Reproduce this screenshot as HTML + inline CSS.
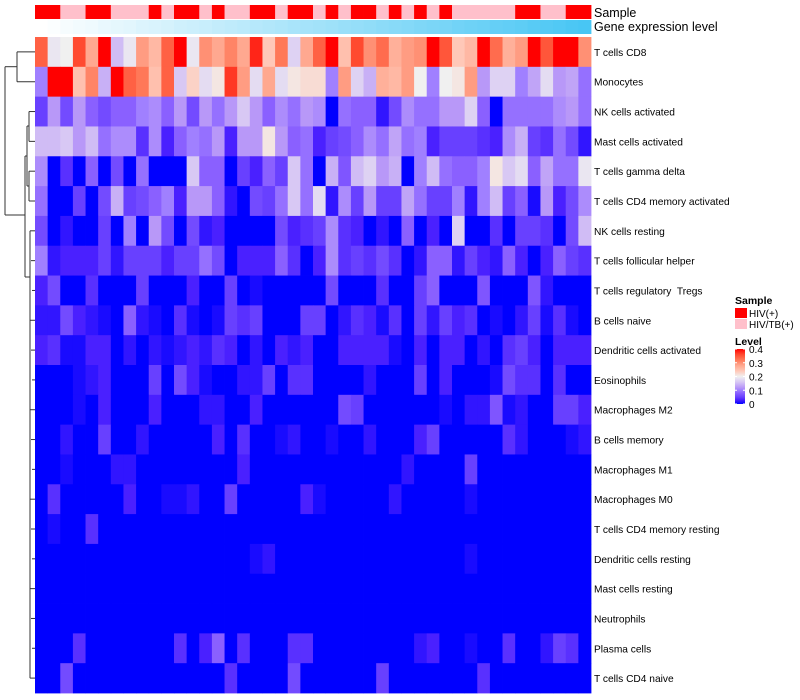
<!DOCTYPE html>
<html><head><meta charset="utf-8"><style>
body{margin:0;background:#fff;}
svg{display:block;font-family:"Liberation Sans",sans-serif;}
text{white-space:pre;}
</style></head><body>
<svg id="chart" width="800" height="700"></svg>
<script>
const cellTypes=["T cells CD8","Monocytes","NK cells activated","Mast cells activated","T cells gamma delta","T cells CD4 memory activated","NK cells resting","T cells follicular helper","T cells regulatory  Tregs","B cells naive","Dendritic cells activated","Eosinophils","Macrophages M2","B cells memory","Macrophages M1","Macrophages M0","T cells CD4 memory resting","Dendritic cells resting","Mast cells resting","Neutrophils","Plasma cells","T cells CD4 naive"];
const sampleGroups="RRPPRRPPPRPRRPRPPRRPRRPRPRRPRPRPRPPPPPRRPPRR".split("");
const geneExpr=[0,2,5,7,9,12,14,16,19,21,23,26,28,30,33,35,37,40,42,44,47,49,51,53,56,58,60,63,65,67,70,72,74,77,79,81,84,86,88,91,93,95,98,100];
// values in percent (0..40 => 0..0.4)
const levels=[
[34,19,20,36,28,40,15,19,29,26,34,40,19,30,28,31,28,38,24,32,17,28,34,40,25,36,30,33,27,29,30,40,35,24,26,40,33,27,29,40,35,40,40,30],
[10,40,40,25,31,14,40,34,32,25,34,16,23,18,21,37,29,18,28,18,21,22,22,10,29,17,14,27,26,29,20,10,20,21,29,12,17,17,10,13,18,12,13,9],
[5,12,6,12,8,6,8,8,10,11,8,12,6,12,9,12,16,12,8,11,9,12,11,0,9,8,8,2,6,11,9,9,12,12,17,8,0,9,9,9,9,11,12,9],
[15,15,16,12,15,9,11,11,4,11,3,8,10,9,12,3,12,12,21,12,8,9,3,5,6,8,11,9,13,9,10,3,5,5,5,4,3,11,14,5,4,9,6,2],
[11,0,4,0,8,0,6,0,9,0,0,0,16,8,8,0,5,3,8,5,16,9,0,14,7,15,17,12,14,0,10,15,9,8,8,10,21,16,18,8,13,9,9,19],
[9,0,0,5,0,6,14,5,6,8,10,3,12,12,8,2,0,6,5,9,16,9,18,2,11,5,12,5,5,13,9,5,5,10,2,10,15,5,8,1,12,3,6,11],
[6,0,2,0,0,5,0,10,0,12,6,0,6,2,3,0,0,0,0,6,3,4,5,11,4,3,0,2,0,8,0,3,0,17,0,0,4,0,5,5,4,0,6,15],
[10,2,3,3,3,5,2,5,5,5,3,5,5,9,6,0,3,3,3,8,4,0,3,11,4,5,4,6,4,0,2,8,8,2,5,3,2,8,3,0,3,8,5,4],
[3,6,0,0,4,0,0,0,5,0,0,0,3,0,0,5,0,1,0,0,0,0,0,6,0,0,0,4,0,0,5,8,0,0,0,7,0,0,0,7,2,0,0,0],
[2,2,6,3,2,1,0,8,2,1,0,4,1,0,1,5,4,5,0,0,0,5,5,0,2,4,3,1,4,0,5,2,5,3,4,0,1,0,2,5,1,4,1,0],
[3,4,1,1,3,3,0,2,0,2,1,2,3,2,4,3,0,2,0,3,2,3,0,0,3,3,3,3,1,0,3,0,3,3,0,2,0,4,5,3,0,3,3,3],
[0,0,0,1,2,3,0,0,0,5,0,6,3,1,0,0,2,2,5,0,4,4,0,0,0,0,2,0,0,0,5,0,3,0,0,0,1,6,4,4,0,4,0,0],
[0,0,0,1,0,3,0,0,0,3,0,0,0,2,2,0,0,3,0,0,0,0,0,0,6,5,0,0,0,0,0,0,1,0,2,2,7,1,2,0,0,5,5,3],
[0,0,2,0,0,5,0,0,2,0,0,0,0,0,3,0,4,0,0,1,2,0,0,1,0,0,2,0,0,0,3,5,0,0,0,0,0,4,2,0,0,0,1,2],
[0,0,1,0,0,0,2,2,0,0,0,0,0,0,0,0,3,0,0,0,0,0,0,0,0,0,0,0,0,2,0,0,0,0,5,0,0,0,0,0,0,0,0,0],
[0,4,0,0,0,0,0,3,0,0,1,1,2,0,0,5,0,0,0,0,0,3,1,0,0,0,0,0,2,0,0,0,0,0,1,0,0,0,0,0,0,0,0,0],
[0,1,0,0,4,0,0,0,0,0,0,0,0,0,0,0,0,0,0,0,0,0,0,0,0,0,0,0,0,0,0,0,0,0,0,0,0,0,0,0,0,0,0,0],
[0,0,0,0,0,0,0,0,0,0,0,0,0,0,0,0,0,1,2,0,0,0,0,0,0,0,0,0,0,0,0,0,0,0,1,0,0,0,0,0,0,0,0,0],
[0,0,0,0,0,0,0,0,0,0,0,0,0,0,0,0,0,0,0,0,0,0,0,0,0,0,0,0,0,0,0,0,0,0,0,0,0,0,0,0,0,0,0,0],
[0,0,0,0,0,0,0,0,0,0,0,0,0,0,0,0,0,0,0,0,0,0,0,0,0,0,0,0,0,0,0,0,0,0,0,0,0,0,0,0,0,0,0,0],
[0,0,0,4,0,0,0,0,0,0,0,4,0,3,8,0,4,0,0,0,4,4,0,0,0,0,0,0,0,0,2,3,0,0,1,0,0,4,0,0,2,5,4,0],
[0,0,6,0,0,0,0,0,0,0,0,0,0,0,0,4,0,0,0,0,6,0,0,0,0,0,0,5,0,0,0,0,0,0,0,4,0,0,0,0,0,0,0,0]
];
const legendTicks=[0,0.1,0.2,0.3,0.4];

const NS="http://www.w3.org/2000/svg";
const svg=document.getElementById("chart");
const X0=35,X1=591,Y0=37,Y1=693;
const nC=geneExpr.length,nR=cellTypes.length;
const cw=(X1-X0)/nC,rh=(Y1-Y0)/nR;
const xPos=c=>X0+c*cw, yPos=r=>Y0+r*rh;
const stops=[[0,[0,0,255]],[0.03,[74,32,255]],[0.05,[104,64,255]],[0.08,[138,96,255]],[0.1,[160,128,255]],[0.12,[184,152,248]],[0.16,[216,200,244]],[0.2,[240,240,240]],[0.24,[255,200,184]],[0.28,[255,168,144]],[0.32,[255,120,88]],[0.36,[255,74,48]],[0.4,[255,0,0]]];
function colorOf(v){
  v=Math.max(0,Math.min(0.4,v));
  for(let i=1;i<stops.length;i++){
    if(v<=stops[i][0]){const a=stops[i-1],b=stops[i];const t=(v-a[0])/(b[0]-a[0]);
      const c=a[1].map((x,k)=>Math.round(x+(b[1][k]-x)*t));return `rgb(${c})`;}
  }
  return "rgb(255,0,0)";
}
function el(tag,attrs){const e=document.createElementNS(NS,tag);for(const k in attrs)e.setAttribute(k,attrs[k]);svg.appendChild(e);return e;}

sampleGroups.forEach((g,c)=>{
  const r=el("rect",{x:xPos(c),y:5,width:cw+0.4,height:14,fill:g==="R"?"#ff0000":"#ffc0cb"});
  
  
});
geneExpr.forEach((g,c)=>{
  const t=g/100;
  const col=`rgb(${Math.round(255+(72-255)*t)},${Math.round(255+(198-255)*t)},${Math.round(255+(244-255)*t)})`;
  const r=el("rect",{x:xPos(c),y:20,width:cw+0.4,height:14,fill:col});
  
  
});
let t1=el("text",{x:594,y:17,"font-size":12.5,fill:"#000"});t1.textContent="Sample";


let t2=el("text",{x:594,y:31,"font-size":12.5,fill:"#000"});t2.textContent="Gene expression level";



levels.forEach((row,r)=>{
  row.forEach((v,c)=>{
    const e=el("rect",{x:xPos(c),y:yPos(r),width:cw+0.4,height:rh+0.4,fill:colorOf(v/100)});
    
    
  });
  const lb=el("text",{x:594,y:yPos(r)+rh/2+4,"font-size":10.2,fill:"#000"});
  lb.textContent=cellTypes[r];
  
  
});

const cy=r=>yPos(r)+rh/2;
const lines=[
 [5,66.7,5,215],[5,66.7,17,66.7],[17,cy(0),17,cy(1)],[17,cy(0),35,cy(0)],[17,cy(1),35,cy(1)],
 [5,215,25,215],[25,156,25,277],
 [25,156,27,156],[27,126,27,186],[27,126,29,126],[27,186,29,186],
 [29,cy(2),29,cy(3)],[29,cy(4),29,cy(5)],
 [29,cy(2),35,cy(2)],[29,cy(3),35,cy(3)],[29,cy(4),35,cy(4)],[29,cy(5),35,cy(5)],
 [25,277,30,277],[30,cy(6),30,cy(21)]
];
for(let r=6;r<22;r++)lines.push([30+(r%3),cy(r),35,cy(r)]);
lines.forEach(l=>{
  const e=el("line",{x1:l[0],y1:l[1],x2:l[2],y2:l[3],stroke:"#333","stroke-width":1});
  
  
});

let lt=el("text",{x:735,y:304,"font-size":10.5,"font-weight":"bold"});lt.textContent="Sample";


[["#ff0000","HIV(+)"],["#ffc0cb","HIV/TB(+)"]].forEach((d,i)=>{
  const s=el("rect",{x:735,y:308+i*11,width:12,height:10,fill:d[0]});
  
  
  const t=el("text",{x:749,y:317+i*11,"font-size":10});t.textContent=d[1];
  
  
});
let lv=el("text",{x:735,y:345,"font-size":10.5,"font-weight":"bold"});lv.textContent="Level";


const defs=document.createElementNS(NS,"defs");svg.appendChild(defs);
const gr=document.createElementNS(NS,"linearGradient");gr.setAttribute("id","lg");gr.setAttribute("x1","0");gr.setAttribute("y1","1");gr.setAttribute("x2","0");gr.setAttribute("y2","0");
stops.forEach(s=>{const st=document.createElementNS(NS,"stop");st.setAttribute("offset",s[0]/0.4);st.setAttribute("stop-color",`rgb(${s[1]})`);gr.appendChild(st);});
defs.appendChild(gr);
const LB0=404,LB1=349;
const cb=el("rect",{x:735,y:LB1,width:10,height:LB0-LB1,fill:"url(#lg)"});


legendTicks.forEach(v=>{
  const y=LB0-(v/0.4)*(LB0-LB1);
  const tk=el("line",{x1:735,y1:y,x2:737,y2:y,stroke:"#fff"});
  
  
  const tk2=el("line",{x1:743,y1:y,x2:745,y2:y,stroke:"#fff"});
  
  
  const t=el("text",{x:749,y:y+4,"font-size":10});t.textContent=String(v);
  
  
});
</script>
</body></html>
